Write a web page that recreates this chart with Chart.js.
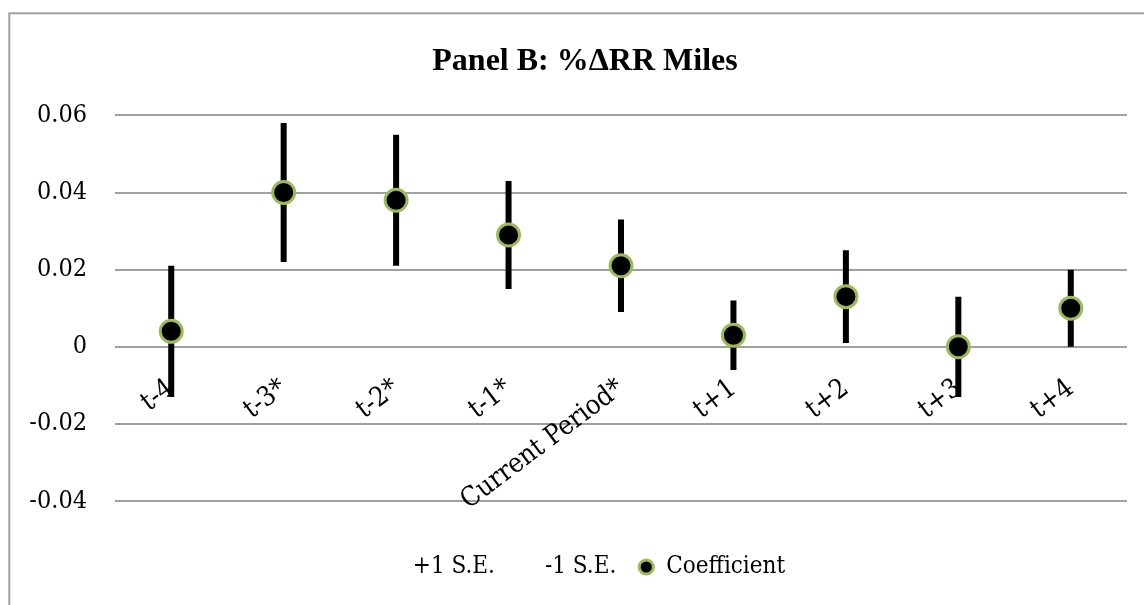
<!DOCTYPE html>
<html>
<head>
<meta charset="utf-8">
<script src="https://cdn.jsdelivr.net/npm/chart.js@4/dist/chart.umd.min.js"></script>
<style>
  html, body { margin: 0; padding: 0; background: #fff; }
  canvas { display: block; }
</style>
</head>
<body>
<canvas id="c" width="1144" height="605"></canvas>
<script>
// ---- Data ----
const categories = ['t-4', 't-3*', 't-2*', 't-1*', 'Current Period*', 't+1', 't+2', 't+3', 't+4'];
const plusSE = [0.021, 0.058, 0.055, 0.043, 0.033, 0.012, 0.025, 0.013, 0.020];
const minusSE = [-0.013, 0.022, 0.021, 0.015, 0.009, -0.006, 0.001, -0.013, 0.000];
const coefficient = [0.004, 0.040, 0.038, 0.029, 0.021, 0.003, 0.013, 0.000, 0.010];
const yTickValues = [-0.04, -0.02, 0, 0.02, 0.04, 0.06];
const yTickLabels = ['-0.04', '-0.02', '0', '0.02', '0.04', '0.06'];
const seriesNames = ['+1 S.E.', '-1 S.E.', 'Coefficient'];
const chartTitle = 'Panel B: %\u0394RR Miles';

const SERIF = "'DejaVu Serif Condensed', 'DejaVu Serif', serif";
const GRID = '#a0a0a0';

const frame = {
  id: 'frame',
  beforeDraw(chart) {
    const ctx = chart.ctx;
    ctx.save();
    ctx.fillStyle = '#fff';
    ctx.fillRect(0, 0, chart.width, chart.height);
    ctx.strokeStyle = GRID;
    ctx.lineWidth = 2;
    ctx.strokeRect(9.3, 13.3, 1400, 900);
    ctx.restore();
  }
};

// let the y tick labels use the space left of the axis box (avoid clipping)
const widenYLabelArea = {
  id: 'widenYLabelArea',
  afterLayout(chart) {
    if (chart.scales.y) chart.scales.y.left = 0;
  }
};

const errorBars = {
  id: 'errorBars',
  beforeDatasetsDraw(chart) {
    const up = chart.getDatasetMeta(0).data;
    const lo = chart.getDatasetMeta(1).data;
    const ctx = chart.ctx;
    ctx.save();
    ctx.strokeStyle = '#000';
    ctx.lineWidth = 6;
    ctx.lineCap = 'butt';
    ctx.beginPath();
    for (let i = 0; i < up.length; i++) {
      ctx.moveTo(up[i].x, up[i].y);
      ctx.lineTo(lo[i].x, lo[i].y);
    }
    ctx.stroke();
    ctx.restore();
  }
};

new Chart(document.getElementById('c'), {
  type: 'line',
  data: {
    labels: categories,
    datasets: [
      { label: seriesNames[0], data: plusSE, showLine: false, pointRadius: 0, pointHoverRadius: 0,
        pointBackgroundColor: 'rgba(0,0,0,0)', pointBorderColor: 'rgba(0,0,0,0)', borderColor: 'rgba(0,0,0,0)' },
      { label: seriesNames[1], data: minusSE, showLine: false, pointRadius: 0, pointHoverRadius: 0,
        pointBackgroundColor: 'rgba(0,0,0,0)', pointBorderColor: 'rgba(0,0,0,0)', borderColor: 'rgba(0,0,0,0)' },
      { label: seriesNames[2], data: coefficient, showLine: false, pointStyle: 'circle',
        pointRadius: 11, pointHoverRadius: 11, pointBorderWidth: 3, pointHoverBorderWidth: 3,
        pointBackgroundColor: '#000', pointBorderColor: '#9BBB59', borderColor: '#9BBB59', backgroundColor: '#000' }
    ]
  },
  options: {
    responsive: false,
    animation: false,
    events: [],
    layout: { padding: { top: 0, left: 43, right: 17, bottom: 16 } },
    plugins: {
      tooltip: { enabled: false },
      title: {
        display: true,
        text: chartTitle,
        color: '#000',
        font: { family: "'Liberation Serif', 'Times New Roman', serif", size: 32, weight: 'bold', lineHeight: 1.2 },
        padding: { top: 43, bottom: 34 }
      },
      legend: {
        display: true,
        position: 'bottom',
        title: { display: true, text: ' ', font: { size: 10, lineHeight: 1.2 }, padding: { top: 10, bottom: 10 } },
        labels: {
          color: '#000',
          font: { family: SERIF, size: 24 },
          usePointStyle: true,
          boxWidth: 16,
          boxHeight: 10,
          padding: 22,
          generateLabels(chart) {
            const items = Chart.defaults.plugins.legend.labels.generateLabels(chart);
            items.forEach(it => {
              if (it.datasetIndex < 2) {
                it.fillStyle = 'rgba(0,0,0,0)';
                it.strokeStyle = 'rgba(0,0,0,0)';
                it.lineWidth = 0;
              } else {
                it.fillStyle = '#000';
                it.strokeStyle = '#9BBB59';
                it.lineWidth = 3;
                it.pointStyle = 'circle';
              }
            });
            return items;
          }
        }
      }
    },
    scales: {
      x: {
        type: 'category',
        position: { y: 0 },
        offset: true,
        grid: { display: false, drawTicks: false },
        border: { display: false },
        ticks: {
          autoSkip: false,
          minRotation: 37,
          maxRotation: 37,
          padding: 26,
          color: '#000',
          font: { family: SERIF, size: 27 }
        }
      },
      y: {
        min: -0.04,
        max: 0.06,
        afterFit(scale) { scale.width = 72; },
        afterBuildTicks(scale) { scale.ticks = yTickValues.map(v => ({ value: v })); },
        grid: { color: GRID, lineWidth: 2, drawTicks: false },
        border: { display: false },
        ticks: {
          padding: 28,
          color: '#000',
          font: { family: SERIF, size: 25 },
          callback(value) {
            const i = yTickValues.findIndex(v => Math.abs(v - value) < 1e-9);
            return i < 0 ? '' : yTickLabels[i];
          }
        }
      }
    }
  },
  plugins: [frame, widenYLabelArea, errorBars]
});
</script>
</body>
</html>
